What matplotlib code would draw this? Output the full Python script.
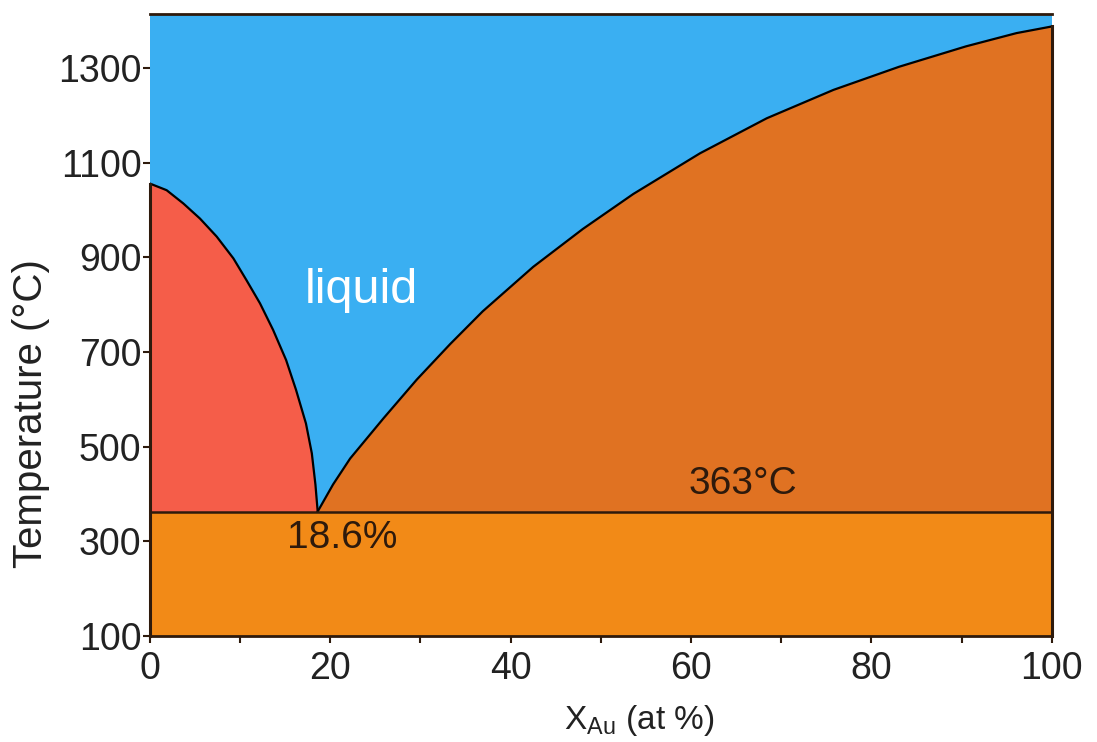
import numpy as np
import matplotlib
matplotlib.use('Agg')
import matplotlib.pyplot as plt

plt.rcParams['font.family'] = ['Liberation Sans', 'DejaVu Sans']

# liquidus branches, composition in at% vs temperature in °C
left_x = [0.0, 1.85, 3.7, 5.55, 7.4, 9.25, 10.7, 12.2, 13.65, 15.1,
          16.2, 17.3, 17.95, 18.35, 18.6]
left_t = [1056, 1042, 1014, 982, 944, 898, 852, 803, 747, 683,
          620, 549, 486, 420, 363]
right_x = [18.6, 20.3, 22.2, 25.9, 29.6, 33.3, 36.9, 42.5, 48.0, 53.6,
           61.0, 68.4, 75.8, 83.1, 90.5, 96.1, 100.0]
right_t = [363, 420, 475, 560, 642, 717, 786, 880, 960, 1034,
           1120, 1194, 1254, 1303, 1346, 1374, 1388]
eutectic_t = 363
eutectic_x = 18.6
t_min, t_max = 100, 1414

blue = '#3aaff2'
red = '#f55d49'
dark_orange = '#e07222'
orange = '#f28a17'
ink = '#2e1a0c'
grey_text = '#222222'

fig = plt.figure(figsize=(10.97, 7.42), dpi=100)
ax = fig.add_axes([0.1367, 0.1429, 0.822, 0.838])
ax.set_facecolor(blue)

ax.fill_between(left_x, eutectic_t, left_t, color=red, lw=0)
ax.fill_between(right_x, eutectic_t, right_t, color=dark_orange, lw=0)
ax.fill_between([0, 100], t_min, eutectic_t, color=orange, lw=0)

ax.plot(left_x, left_t, color='black', lw=1.6, solid_joinstyle='round')
ax.plot(right_x, right_t, color='black', lw=1.6, solid_joinstyle='round')
ax.axhline(eutectic_t, color=ink, lw=1.8)

# only the solid edges get a dark border on the sides
ax.plot([0, 0], [t_min, left_t[0]], color=ink, lw=2.2, clip_on=False)
ax.plot([100, 100], [t_min, right_t[-1]], color=ink, lw=2.2, clip_on=False)
for side in ('left', 'right'):
    ax.spines[side].set_visible(False)
for side in ('top', 'bottom'):
    ax.spines[side].set_color(ink)
    ax.spines[side].set_linewidth(2.0)

ax.set_xlim(0, 100)
ax.set_ylim(t_min, t_max)
ax.set_xticks(range(0, 101, 20))
ax.set_xticks(range(10, 100, 20), minor=True)
ax.set_yticks(range(100, 1400, 200))
ax.tick_params(axis='both', which='both', direction='out', length=5,
               width=1.5, color=ink, labelsize=27, labelcolor=grey_text)
ax.tick_params(axis='x', pad=6)
ax.tick_params(axis='y', pad=1)

ax.set_xlabel(r'X$_{\mathregular{Au}}$ (at %)', fontsize=24, color=grey_text)
ax.set_ylabel('Temperature (°C)', fontsize=29, color=grey_text)
ax.xaxis.set_label_coords(0.543, -0.108)
ax.yaxis.set_label_coords(-0.111, 0.357)

ax.text(23.4, 804, 'liquid', color='white', fontsize=35, ha='center', va='baseline')
ax.text(65.8, 400, f'{eutectic_t}°C', color=ink, fontsize=28, ha='center', va='baseline')
ax.text(eutectic_x + 2.7, 286, f'{eutectic_x}%', color=ink, fontsize=28,
        ha='center', va='baseline')

fig.savefig('out.png', dpi=100)
